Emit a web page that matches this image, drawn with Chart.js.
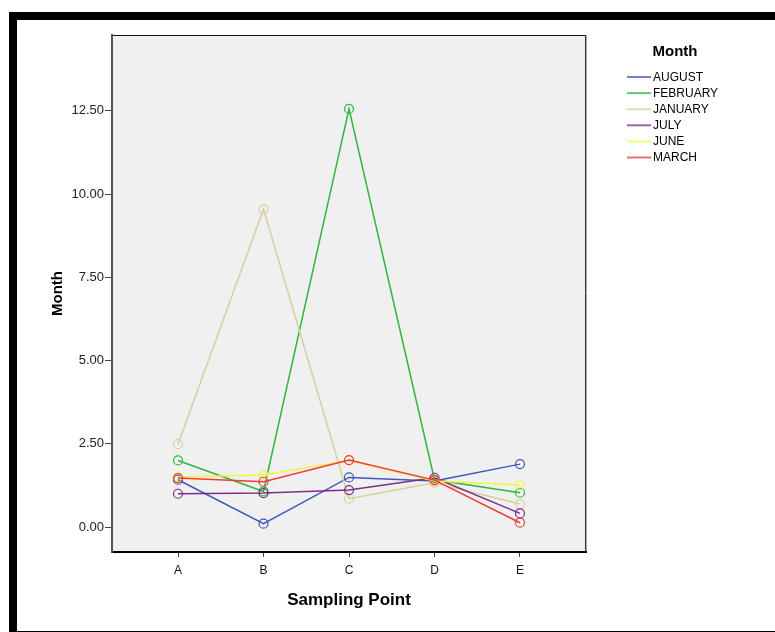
<!DOCTYPE html>
<html>
<head>
<meta charset="utf-8">
<script src="https://cdn.jsdelivr.net/npm/chart.js@4/dist/chart.umd.min.js"></script>
<style>
  html, body { margin: 0; padding: 0; background: #ffffff; }
  #wrap { position: relative; width: 775px; height: 632px; overflow: hidden; }
  #frame { position: absolute; left: 9px; top: 12px; width: 800px; height: 611px;
           border-top: 8px solid #000; border-left: 8px solid #000; border-bottom: 1px solid #000; }
  canvas { position: absolute; left: 0; top: 0; }
</style>
</head>
<body>
<div id="wrap">
  <div id="frame"></div>
  <canvas id="c" width="775" height="632"></canvas>
</div>
<script>
// ---- data ----
const categories = ['A', 'B', 'C', 'D', 'E'];
const yTickValues = [0, 2.5, 5, 7.5, 10, 12.5];
const seriesNames = ['AUGUST', 'FEBRUARY', 'JANUARY', 'JULY', 'JUNE', 'MARCH'];
const august   = [1.42, 0.10, 1.49, 1.38, 1.89];
const february = [2.00, 1.07, 12.56, 1.42, 1.03];
const january  = [2.49, 9.55, 0.85, 1.33, 0.69];
const july     = [1.00, 1.02, 1.11, 1.48, 0.41];
const june     = [1.50, 1.56, 2.00, 1.38, 1.26];
const march    = [1.47, 1.36, 2.01, 1.41, 0.13];
const seriesValues = [august, february, january, july, june, march];
const seriesColors = ['#3f57b8', '#2bb83d', '#d6d09e', '#7b2d8c', '#f4f440', '#f03b3b'];

const FONT = "'Liberation Sans', Arial, sans-serif";

const datasets = seriesNames.map((name, i) => ({
  label: name,
  data: seriesValues[i].map((v, j) => ({ x: j, y: v })),
  borderColor: seriesColors[i],
  backgroundColor: 'rgba(0,0,0,0)',
  borderWidth: 1.5,
  pointRadius: 4.5,
  pointBorderWidth: 1.2,
  pointBackgroundColor: 'rgba(0,0,0,0)',
  pointBorderColor: seriesColors[i],
  tension: 0,
  order: seriesNames.length - i
}));

const framePlugin = {
  id: 'framePlugin',
  beforeDraw(chart) {
    const { ctx, chartArea: a } = chart;
    ctx.save();
    ctx.fillStyle = '#f0f0f0';
    ctx.fillRect(a.left, a.top, a.right - a.left, a.bottom - a.top);
    ctx.strokeStyle = '#111';
    ctx.lineWidth = 1;
    ctx.beginPath();
    ctx.moveTo(a.left, a.top + 0.5);
    ctx.lineTo(a.right, a.top + 0.5);
    ctx.stroke();
    ctx.strokeStyle = '#333';
    ctx.beginPath();
    ctx.moveTo(a.right - 0.5, a.top);
    ctx.lineTo(a.right - 0.5, a.bottom);
    ctx.stroke();
    ctx.strokeStyle = '#aaa';
    ctx.beginPath();
    ctx.moveTo(a.right + 0.5, a.top);
    ctx.lineTo(a.right + 0.5, a.bottom);
    ctx.stroke();
    ctx.restore();
  },
  afterDraw(chart) {
    const { ctx } = chart;
    ctx.save();
    ctx.fillStyle = '#000';
    ctx.font = 'bold 15px ' + FONT;
    ctx.textAlign = 'center';
    ctx.textBaseline = 'middle';
    ctx.fillText('Month', 675, 52);
    ctx.font = '12px ' + FONT;
    ctx.textAlign = 'left';
    chart.data.datasets.forEach((ds, i) => {
      const y = 77 + i * 16.1;
      ctx.strokeStyle = ds.borderColor;
      ctx.globalAlpha = 0.75;
      ctx.lineWidth = 2;
      ctx.beginPath();
      ctx.moveTo(627, y);
      ctx.lineTo(651, y);
      ctx.stroke();
      ctx.globalAlpha = 1;
      ctx.fillStyle = '#000';
      ctx.fillText(ds.label, 653, y + 0.5);
    });
    ctx.restore();
  }
};

new Chart(document.getElementById('c'), {
  type: 'line',
  data: { datasets },
  options: {
    responsive: false,
    animation: false,
    devicePixelRatio: 1,
    layout: { padding: { top: 35, right: 189, left: 0, bottom: 0 } },
    plugins: { legend: { display: false }, tooltip: { enabled: false } },
    scales: {
      x: {
        type: 'linear',
        min: -0.772,
        max: 4.772,
        afterBuildTicks: (s) => { s.ticks = categories.map((c, i) => ({ value: i })); },
        afterFit: (s) => { s.height = 80; },
        ticks: {
          callback: (v) => categories[v] ?? '',
          color: '#111',
          font: { family: FONT, size: 12 },
          padding: 6,
          maxRotation: 0,
          autoSkip: false
        },
        grid: { drawOnChartArea: false, drawTicks: true, tickLength: 5, color: '#444', lineWidth: 1 },
        border: { display: true, color: '#000', width: 2 },
        title: {
          display: true, text: 'Sampling Point', color: '#000',
          font: { family: FONT, size: 17, weight: 'bold' },
          padding: { top: 0, bottom: 21 }
        }
      },
      y: {
        type: 'linear',
        min: -0.75,
        max: 14.78,
        afterBuildTicks: (s) => { s.ticks = yTickValues.map(v => ({ value: v })); },
        afterFit: (s) => { s.width = 112; },
        ticks: {
          callback: (v) => Number(v).toFixed(2),
          color: '#222',
          font: { family: FONT, size: 13 },
          padding: 1
        },
        grid: { drawOnChartArea: false, drawTicks: true, tickLength: 7, color: '#444', lineWidth: 1 },
        border: { display: true, color: '#555', width: 2 },
        title: {
          display: true, text: 'Month', color: '#000',
          font: { family: FONT, size: 15, weight: 'bold' },
          padding: { top: 49, bottom: 0 }
        }
      }
    }
  },
  plugins: [framePlugin]
});
</script>
</body>
</html>
